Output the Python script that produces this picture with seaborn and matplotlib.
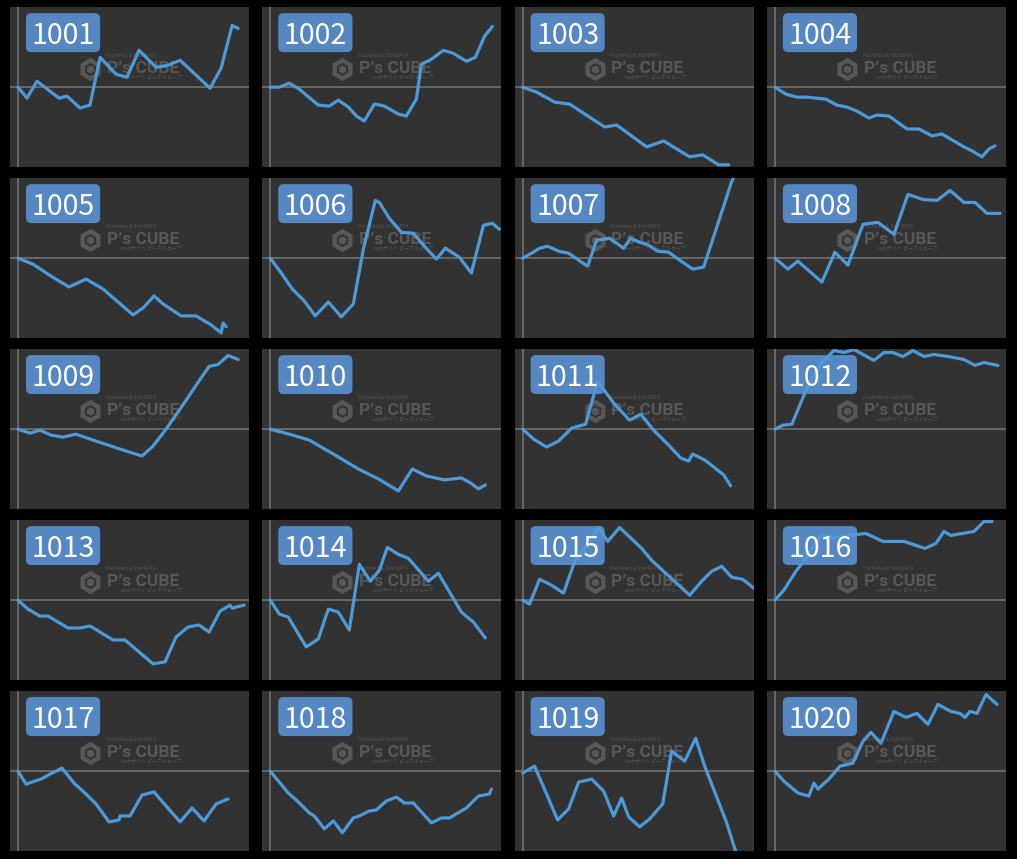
"""
Machine difference charts (20 small panels, P's CUBE style)
"""

import matplotlib
matplotlib.use("Agg")
import matplotlib.pyplot as plt
import matplotlib.patches as mpatches
import seaborn as sns

# machine numbers shown in the badges
machines = ["1001", "1002", "1003", "1004", "1005", "1006", "1007", "1008", "1009", "1010",
            "1011", "1012", "1013", "1014", "1015", "1016", "1017", "1018", "1019", "1020"]

# progress (x) and balance (y) per machine
x_1001 = [0, 9, 19, 41, 49, 62, 72, 82, 98, 109, 121, 138, 150, 162, 192, 203, 214, 220]
y_1001 = [0, -11, 6, -11, -9, -21, -18, 30, 13, 10, 37, 20, 22, 27, -1, 19, 62, 59]
x_1002 = [0, 9, 19, 29, 48, 59, 68, 78, 86, 94, 104, 114, 128, 136, 146, 151, 161, 173, 183, 196, 205, 214, 222]
y_1002 = [0, 0, 4, -2, -18, -19, -13, -20, -29, -34, -17, -19, -27, -29, -12, 23, 28, 37, 34, 26, 30, 51, 61]
x_1003 = [0, 14, 32, 47, 82, 94, 124, 141, 167, 180, 196, 206]
y_1003 = [0, -5, -15, -17, -40, -38, -60, -54, -70, -68, -78, -78]
x_1004 = [0, 11, 22, 32, 41, 51, 62, 72, 82, 94, 102, 114, 132, 144, 157, 167, 189, 197, 207, 214, 220]
y_1004 = [0, -7, -10, -10, -11, -12, -18, -20, -24, -31, -28, -29, -42, -42, -49, -47, -60, -64, -70, -62, -59]
x_1005 = [0, 15, 33, 51, 68, 85, 100, 115, 125, 136, 145, 163, 178, 193, 203, 205, 208]
y_1005 = [0, -6, -18, -29, -21, -31, -44, -57, -50, -38, -46, -58, -58, -67, -75, -65, -69]
x_1006 = [0, 11, 22, 34, 45, 58, 71, 83, 93, 105, 109, 119, 131, 143, 154, 166, 175, 189, 201, 213, 222, 229]
y_1006 = [0, -15, -31, -43, -58, -44, -59, -46, 9, 58, 56, 40, 26, 25, 12, -1, 10, 1, -15, 33, 35, 29]
x_1007 = [0, 9, 17, 25, 36, 46, 56, 65, 74, 87, 101, 108, 117, 126, 135, 146, 157, 170, 181, 209, 213]
y_1007 = [0, 5, 10, 12, 7, 5, -2, -8, 18, 20, 10, 20, 16, 13, 7, 6, -2, -11, -9, 77, 86]
x_1008 = [0, 13, 23, 47, 60, 73, 88, 103, 119, 133, 148, 162, 175, 189, 200, 212, 225]
y_1008 = [0, -11, -3, -24, 6, -7, 34, 36, 24, 64, 59, 58, 68, 56, 56, 45, 45]
x_1009 = [0, 12, 22, 33, 45, 58, 75, 93, 108, 124, 135, 148, 168, 182, 191, 200, 210, 220]
y_1009 = [0, -4, -1, -6, -8, -5, -11, -17, -22, -27, -17, 0, 29, 50, 63, 65, 74, 70]
x_1010 = [0, 19, 39, 63, 88, 108, 128, 142, 156, 174, 191, 200, 208, 215]
y_1010 = [0, -5, -11, -25, -40, -50, -62, -40, -47, -51, -49, -54, -60, -56]
x_1011 = [0, 11, 24, 36, 49, 63, 75, 92, 107, 118, 131, 146, 158, 166, 170, 182, 191, 201, 208]
y_1011 = [0, -10, -18, -12, 1, 5, 48, 25, 9, 15, -1, -16, -29, -32, -25, -31, -38, -46, -57]
x_1012 = [0, 8, 17, 31, 46, 59, 69, 79, 99, 109, 118, 128, 138, 149, 159, 173, 189, 200, 209, 223]
y_1012 = [0, 4, 5, 39, 66, 79, 77, 80, 69, 77, 77, 73, 79, 73, 75, 73, 70, 64, 67, 64]
x_1013 = [0, 10, 22, 30, 50, 62, 72, 95, 107, 135, 147, 158, 170, 181, 191, 202, 212, 214, 226]
y_1013 = [0, -9, -16, -16, -28, -28, -26, -40, -40, -64, -62, -37, -27, -25, -32, -11, -5, -8, -5]
x_1014 = [0, 9, 18, 36, 48, 58, 68, 79, 89, 100, 109, 117, 128, 138, 158, 168, 191, 203, 215]
y_1014 = [0, -14, -17, -47, -39, -9, -12, -30, 36, 19, 30, 53, 46, 42, 19, 27, -12, -22, -38]
x_1015 = [0, 7, 17, 29, 41, 52, 76, 85, 97, 119, 129, 167, 179, 189, 199, 209, 220, 231]
y_1015 = [0, -4, 21, 15, 7, 39, 73, 59, 73, 52, 40, 5, 19, 29, 34, 23, 21, 12]
x_1016 = [0, 9, 21, 31, 46, 59, 73, 91, 108, 129, 150, 161, 169, 176, 199, 209, 217]
y_1016 = [0, 10, 29, 42, 65, 63, 65, 67, 59, 59, 52, 57, 69, 65, 69, 79, 79]
x_1017 = [0, 8, 23, 32, 44, 56, 68, 78, 91, 101, 102, 112, 124, 136, 148, 162, 174, 186, 198, 210]
y_1017 = [0, -13, -8, -3, 3, -12, -23, -33, -51, -49, -45, -45, -24, -21, -35, -51, -37, -50, -33, -28]
x_1018 = [0, 18, 26, 39, 44, 54, 63, 72, 83, 89, 99, 106, 116, 126, 134, 143, 161, 171, 179, 196, 208, 219, 221]
y_1018 = [0, -22, -29, -42, -45, -58, -50, -62, -47, -45, -40, -39, -30, -26, -32, -32, -52, -47, -47, -37, -25, -23, -18]
x_1019 = [0, 12, 24, 35, 46, 56, 69, 81, 91, 99, 106, 117, 127, 140, 149, 162, 173, 182, 204, 214]
y_1019 = [-2, 5, -23, -49, -38, -11, -8, -20, -45, -27, -46, -56, -48, -33, 20, 10, 33, 5, -52, -84]
x_1020 = [0, 9, 23, 34, 39, 43, 54, 65, 78, 88, 96, 106, 119, 131, 142, 153, 163, 176, 185, 190, 195, 202, 211, 222]
y_1020 = [0, -10, -22, -25, -12, -18, -8, 5, 8, 30, 39, 28, 60, 54, 58, 47, 67, 60, 58, 54, 60, 58, 77, 67]

series = [(x_1001, y_1001), (x_1002, y_1002), (x_1003, y_1003), (x_1004, y_1004),
          (x_1005, y_1005), (x_1006, y_1006), (x_1007, y_1007), (x_1008, y_1008),
          (x_1009, y_1009), (x_1010, y_1010), (x_1011, y_1011), (x_1012, y_1012),
          (x_1013, y_1013), (x_1014, y_1014), (x_1015, y_1015), (x_1016, y_1016),
          (x_1017, y_1017), (x_1018, y_1018), (x_1019, y_1019), (x_1020, y_1020)]

sns.set_theme(style="dark")
plt.rcParams["font.family"] = ["Noto Sans CJK JP", "DejaVu Sans"]

LINE = "#4d9ad8"
BADGE = "#5587c3"
PANEL = "#323232"
AXIS = "#6c6c6c"
MARK = "#575757"

fig, axes = plt.subplots(5, 4, figsize=(10.17, 8.59), dpi=100)
fig.patch.set_facecolor("black")
fig.subplots_adjust(left=0.0098, right=0.9892, top=0.9918, bottom=0.0090,
                    wspace=0.055, hspace=0.067)

for ax, name, (xs, ys) in zip(axes.flat, machines, series):
    ax.set_facecolor(PANEL)
    ax.axhline(0, color=AXIS, lw=1.3, zorder=1)
    ax.axvline(0, color=AXIS, lw=1.3, zorder=1)

    # watermark
    ax.plot([0.335], [0.615], marker="h", ms=13, mfc="none", mec=MARK, mew=3.2,
            transform=ax.transAxes, zorder=1)
    ax.plot([0.335], [0.615], marker="h", ms=5, mfc=MARK, mec=MARK,
            transform=ax.transAxes, zorder=1)
    ax.text(0.555, 0.615, "P’s CUBE", transform=ax.transAxes, ha="center", va="center",
            fontsize=12.5, fontweight="bold", color=MARK, family="Roboto", zorder=1)
    ax.text(0.505, 0.70, "Pachinko & Slot DATA", transform=ax.transAxes, ha="center",
            va="center", fontsize=3.6, color=MARK, zorder=1)
    ax.text(0.59, 0.555, "webサイト ピーズキューブ", transform=ax.transAxes, ha="center",
            va="center", fontsize=3.6, color=MARK, zorder=1)

    sns.lineplot(x=xs, y=ys, ax=ax, sort=False, estimator=None, color=LINE,
                 linewidth=2.3, zorder=4)

    badge = mpatches.FancyBboxPatch((0.067, 0.719), 0.31, 0.243,
                                    boxstyle="round,pad=0,rounding_size=0.022",
                                    mutation_aspect=1.49, transform=ax.transAxes,
                                    fc=BADGE, ec="none", zorder=3)
    ax.add_patch(badge)
    ax.text(0.222, 0.818, name, transform=ax.transAxes, ha="center", va="center",
            fontsize=20.5, color="white", zorder=5)

    ax.set_xlim(-8, 231)
    ax.set_ylim(-80.5, 80.5)
    ax.set_xticks([])
    ax.set_yticks([])
    ax.set_xlabel("")
    ax.set_ylabel("")
    for sp in ax.spines.values():
        sp.set_visible(False)

plt.savefig("out.png", dpi=100, facecolor="black")
